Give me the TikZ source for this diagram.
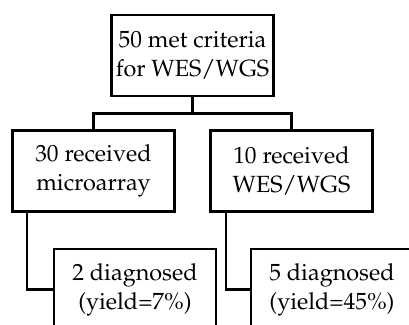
\documentclass[tikz,border=0pt]{standalone}
\usepackage[T1]{fontenc}
\usepackage{mathpazo}
\usetikzlibrary{positioning}

\begin{document}
\begin{tikzpicture}[x=1bp,y=-1bp]
	\tikzset{box/.style = {shape=rectangle,draw,line width=2.8bp,
			minimum width=162bp,minimum height=81bp,
			inner sep=0pt,align=center,font=\fontsize{23.5}{29}\selectfont}}
	\tikzset{edge/.style = {line width=2.8bp}}
	\useasboundingbox (0,0) rectangle (409,325);
	\clip (0,0) rectangle (409,325);
	
	% boxes
	\node[box] (a) at (192.5,55.5) {50 met criteria\\for WES/WGS};
	\node[box] (b) at (93.5,171) {30 received\\microarray};
	\node[box] (c) at (291.5,171) {10 received\\WES/WGS};
	\node[box] (d) at (135,289.5) {2 diagnosed\\(yield=7\%)};
	\node[box] (e) at (332,289.5) {5 diagnosed\\(yield=45\%)};
	
	%edges
	\draw[edge] (a.south) -- ++(0,16) -| (b.north);
	\draw[edge] (a.south) -- ++(0,16) -| (c.north);
	\draw[edge] ([xshift=16bp]b.south west) |- (d.west);
	\draw[edge] ([xshift=17bp]c.south west) |- (e.west);
	
\end{tikzpicture}
\end{document}
